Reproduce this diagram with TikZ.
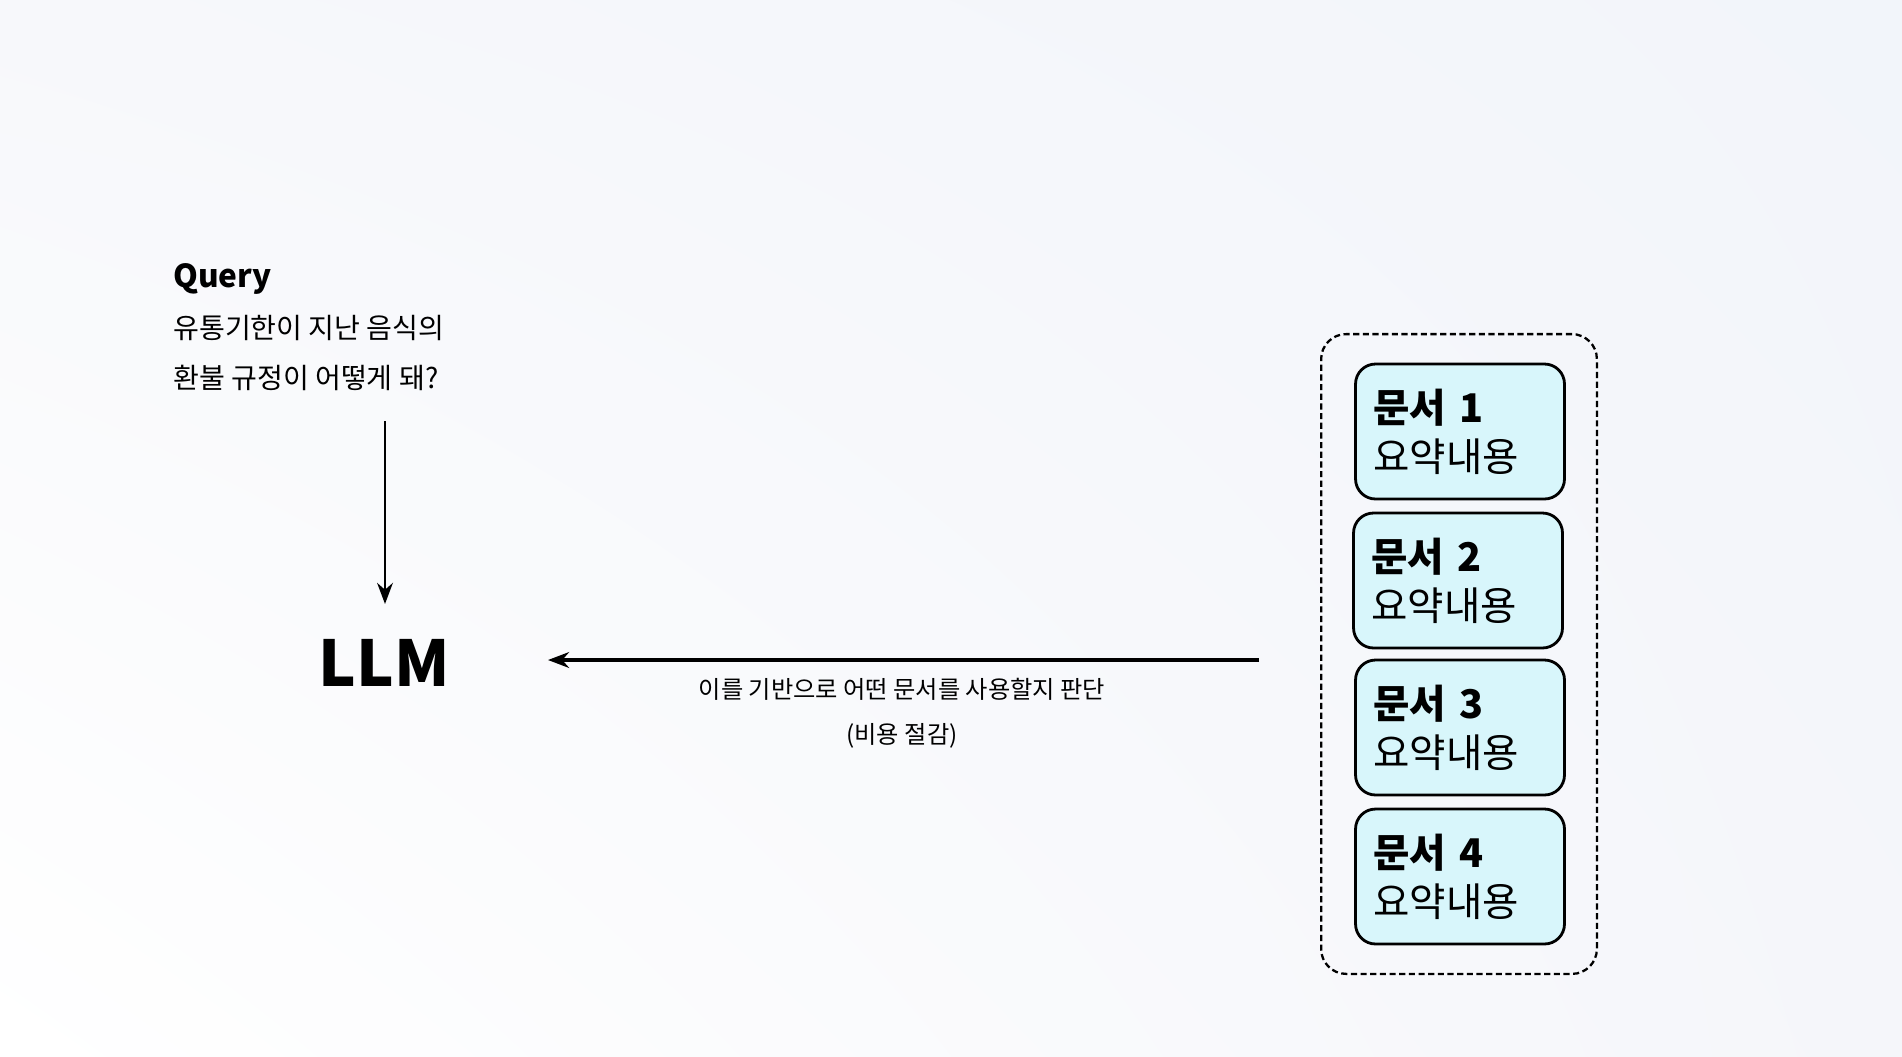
\documentclass[tikz,border=0pt]{standalone}
\usepackage{fontspec}
\setmainfont{Noto Sans CJK KR}
\usetikzlibrary{arrows.meta,fit,shadings}

\definecolor{docfill}{RGB}{216,246,251}
\definecolor{bgA}{RGB}{242,245,250}
\definecolor{bgB}{RGB}{247,248,251}
\definecolor{bgC}{RGB}{245,246,250}

\begin{document}
\begin{tikzpicture}[x=0.02cm, y=-0.02cm,
    doc/.style={draw, line width=1.6pt, rounded corners=0.4cm, fill=docfill,
        minimum width=4.18cm, minimum height=2.7cm, text width=3.46cm,
        inner xsep=0.36cm, inner ysep=0pt, align=left,
        font=\fontsize{22.5}{28}\selectfont},
    arr/.style={-{Stealth[length=12pt,width=9pt]}}]
    \shade[lower left=white, upper right=bgA, upper left=bgB, lower right=bgC]
        (0,0) rectangle (1902,1056);

    \node[anchor=west, inner sep=0pt, font=\fontsize{18}{22}\selectfont\bfseries] (query) at (173,279) {Query};
    \node[anchor=west, inner sep=0pt, align=left, font=\fontsize{16}{28.5}\selectfont] (ask) at (173,353)
        {유통기한이 지난 음식의\\환불 규정이 어떻게 돼?};
    \node[inner sep=0pt, font=\fontsize{36}{42}\selectfont\bfseries] (llm) at (384,663) {LLM};

    \node[doc] (d1) at (1460,431.5) {\textbf{문서 1}\\요약내용};
    \node[doc] (d2) at (1458,580.5) {\textbf{문서 2}\\요약내용};
    \node[doc] (d3) at (1460,727.5) {\textbf{문서 3}\\요약내용};
    \node[doc] (d4) at (1460,876.5) {\textbf{문서 4}\\요약내용};
    \node[draw, dashed, dash pattern=on 3.5pt off 2pt, line width=1.3pt, rounded corners=0.5cm,
        inner xsep=0.62cm, inner ysep=0.57cm, fit=(d1)(d2)(d3)(d4)] (docs) {};

    \coordinate (from) at (1259,660);
    \coordinate (to) at (548,660);
    \draw[arr, line width=1.9pt] (from) -- (to);
    \node[align=center, font=\fontsize{13.8}{25.6}\selectfont] (why) at (902,713.5)
        {이를 기반으로 어떤 문서를 사용할지 판단\\(비용 절감)};

    \coordinate (top) at (385,421);
    \draw[arr, line width=1.1pt, shorten >=20pt] (top) -- (llm.north -| top);
\end{tikzpicture}
\end{document}
